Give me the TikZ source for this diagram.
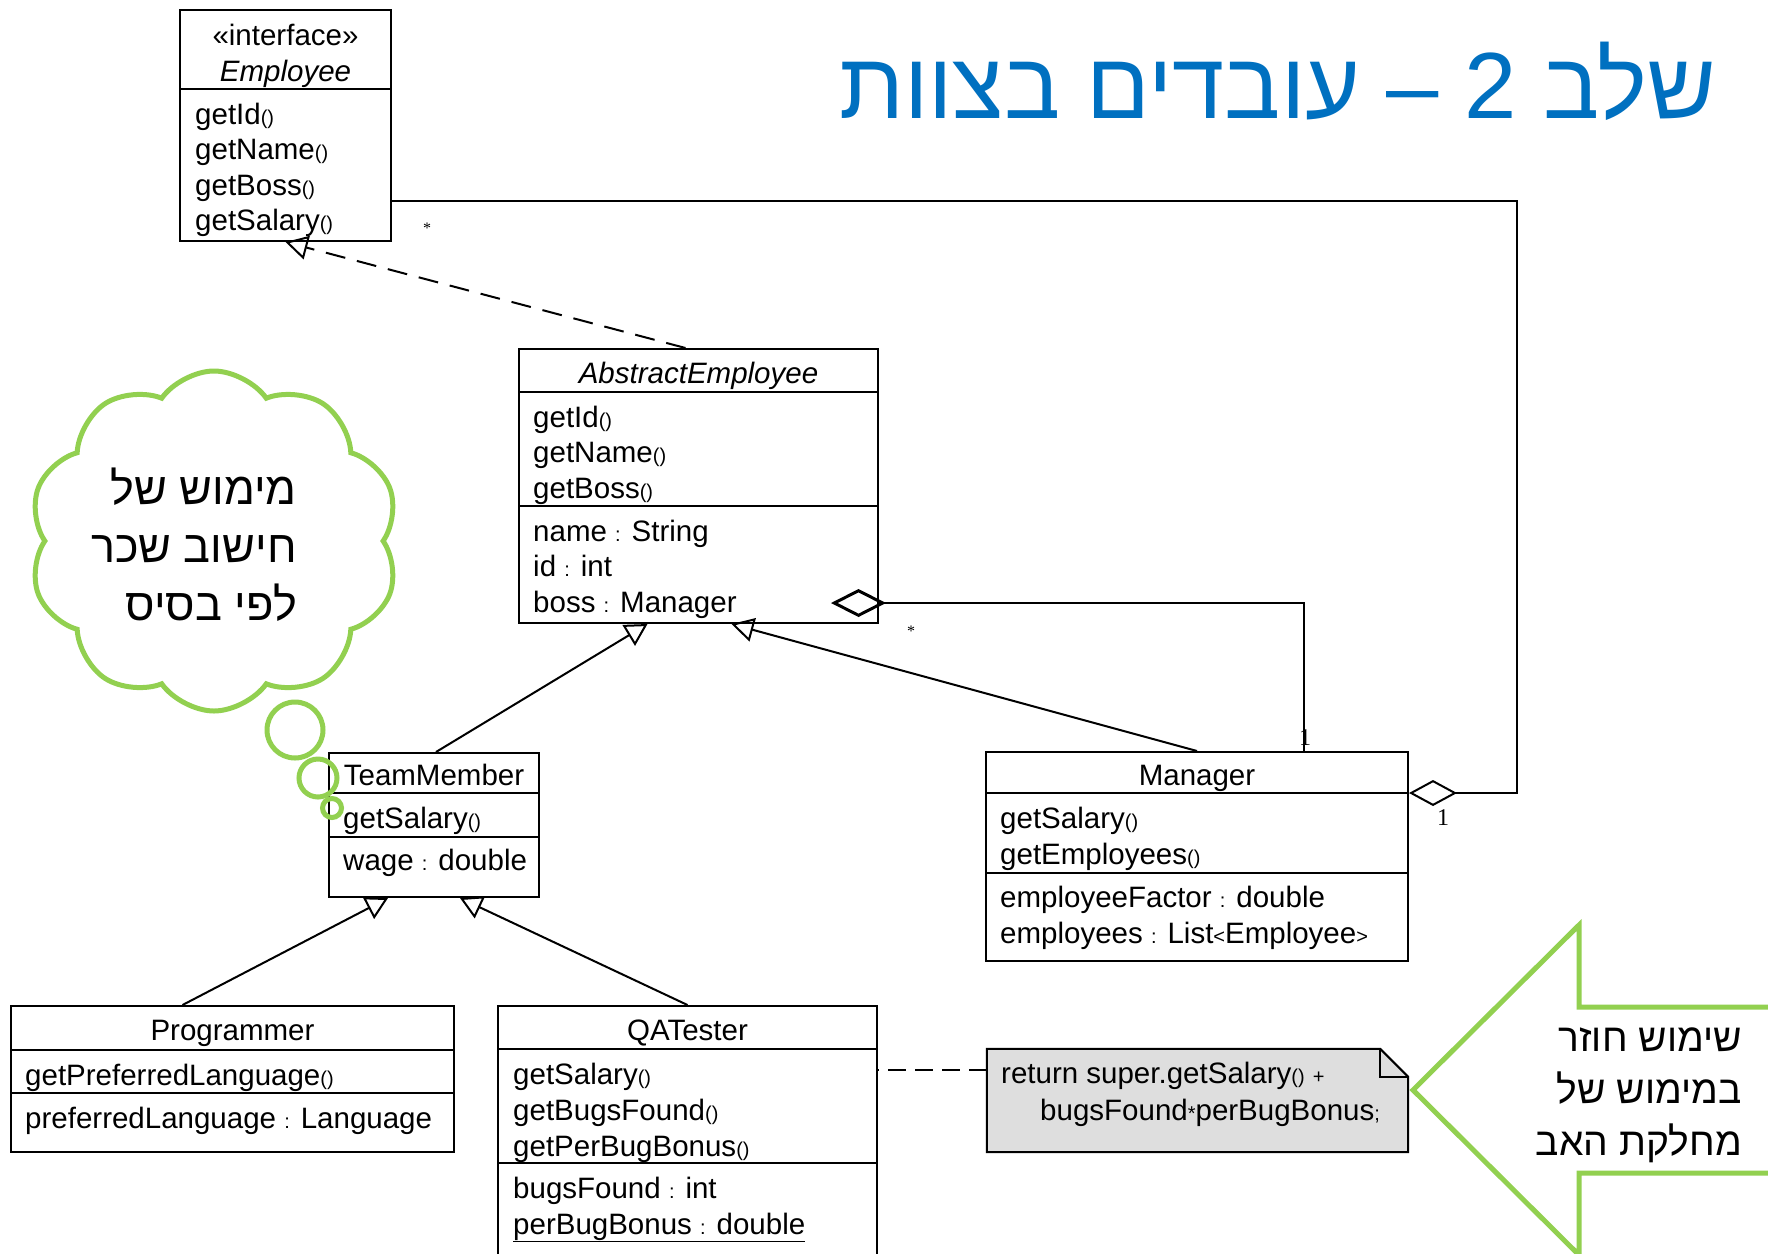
\documentclass[tikz,border=0pt]{standalone}
\usepackage{fontspec}
\setmainfont{Liberation Sans}
\newfontfamily\hebfont[Script=Hebrew]{Liberation Sans}
\newfontfamily\titlefont[Script=Hebrew]{Liberation Sans}
\newfontfamily\multfont{Liberation Serif}
\TeXXeTstate=1
\usetikzlibrary{arrows.meta,shapes.symbols,positioning}
\definecolor{titleblue}{HTML}{0070C0}
\definecolor{callgreen}{HTML}{92D050}
\definecolor{notegray}{HTML}{DEDEDE}
\newcommand{\umlfont}{\fontsize{29.5}{36}\selectfont}
\newcommand{\sm}[1]{{\fontsize{20}{20}\selectfont #1}}

\begin{document}
\begin{tikzpicture}[x=1pt, y=-1pt,
	cls/.style={draw, line width=2pt, inner sep=0pt},
	mem/.style={anchor=base west, inner sep=0pt, font=\umlfont},
	hdr/.style={anchor=base, inner sep=0pt, font=\umlfont},
	gen/.style={line width=2pt, -{Triangle[open, length=22pt, width=24pt]}},
	real/.style={gen, dash pattern=on 20pt off 12pt},
	agg/.style={line width=2pt},
	mult/.style={inner sep=0pt, font=\multfont\fontsize{24}{24}\selectfont},
	callout/.style={draw=callgreen, line width=5pt},
	heb/.style={inner sep=0pt, align=right, anchor=east}]
		\fill[white] (0,0) rectangle (1768,1253);
		\path[use as bounding box] (0,0) rectangle (1768,1253);
		\clip (0,0) rectangle (1768,1253);
		
		%--title
		\node[anchor=base east, inner sep=0pt, text=titleblue, font=\titlefont\fontsize{94}{100}\selectfont] (title) at (1716,118) {\beginR שלב 2 – עובדים בצוות\endR};
		
		%--class Employee
		\node[cls, minimum width=211pt, minimum height=231pt] (emp) at (285.5,125.5) {};
		\draw[line width=2pt] (emp.west |- 0,89) -- (emp.east |- 0,89);
		\node[hdr] (emp-st) at (285.5,45) {«interface»};
		\node[hdr, font={\umlfont\itshape}] (emp-nm) at (285.5,81) {Employee};
		\foreach \m [count=\i] in {getId, getName, getBoss, getSalary}
			\node[mem] (emp-m\i) at (195,{124+35.5*(\i-1)}) {\m\sm{()}};
		
		%--class AbstractEmployee
		\node[cls, minimum width=359pt, minimum height=274pt] (ae) at (698.5,486) {};
		\foreach \y in {392,506}
			\draw[line width=2pt] (ae.west |- 0,\y) -- (ae.east |- 0,\y);
		\node[hdr, font={\umlfont\itshape}] (ae-nm) at (698.5,383) {AbstractEmployee};
		\foreach \m [count=\i] in {getId, getName, getBoss}
			\node[mem] (ae-m\i) at (533,{427+35.5*(\i-1)}) {\m\sm{()}};
		\foreach \a [count=\i] in {name \sm{:} String, id \sm{:} int, boss \sm{:} Manager}
			\node[mem] (ae-a\i) at (533,{541+35.5*(\i-1)}) {\a};
		
		%--class TeamMember
		\node[cls, minimum width=210pt, minimum height=144pt] (tm) at (434,825) {};
		\foreach \y in {793,837}
			\draw[line width=2pt] (tm.west |- 0,\y) -- (tm.east |- 0,\y);
		\node[hdr] (tm-nm) at (434,785) {TeamMember};
		\node[mem] (tm-m1) at (343,828) {getSalary\sm{()}};
		\node[mem] (tm-a1) at (343,870) {wage \sm{:} double};
		
		%--class Manager
		\node[cls, minimum width=422pt, minimum height=209pt] (mgr) at (1197,856.5) {};
		\foreach \y in {793,873}
			\draw[line width=2pt] (mgr.west |- 0,\y) -- (mgr.east |- 0,\y);
		\node[hdr] (mgr-nm) at (1197,785) {Manager};
		\node[mem] (mgr-m1) at (1000,828) {getSalary\sm{()}};
		\node[mem] (mgr-m2) at (1000,864) {getEmployees\sm{()}};
		\node[mem] (mgr-a1) at (1000,907) {employeeFactor \sm{:} double};
		\node[mem] (mgr-a2) at (1000,943) {employees \sm{:} List\sm{<}Employee\sm{>}};
		
		%--class Programmer
		\node[cls, minimum width=443pt, minimum height=146pt] (prog) at (232.5,1079) {};
		\foreach \y in {1050,1093}
			\draw[line width=2pt] (prog.west |- 0,\y) -- (prog.east |- 0,\y);
		\node[hdr] (prog-nm) at (232.5,1040) {Programmer};
		\node[mem] (prog-m1) at (25,1085) {getPreferredLanguage\sm{()}};
		\node[mem] (prog-a1) at (25,1128) {preferredLanguage \sm{:} Language};
		
		%--class QATester
		\node[cls, minimum width=379pt, minimum height=284pt] (qa) at (687.5,1148) {};
		\foreach \y in {1049,1163}
			\draw[line width=2pt] (qa.west |- 0,\y) -- (qa.east |- 0,\y);
		\node[hdr] (qa-nm) at (687.5,1040) {QATester};
		\foreach \m [count=\i] in {getSalary, getBugsFound, getPerBugBonus}
			\node[mem] (qa-m\i) at (513,{1084+36*(\i-1)}) {\m\sm{()}};
		\node[mem] (qa-a1) at (513,1198) {bugsFound \sm{:} int};
		\node[mem] (qa-a2) at (513,1234) {\underline{perBugBonus \sm{:} double}};
		
		%--note
		\node[inner sep=0pt, minimum width=421pt, minimum height=103pt] (note) at (1197.5,1100.5) {};
		\draw[line width=2pt, fill=notegray] (note.north west) -- ([xshift=-28pt]note.north east) -- ([yshift=-28pt]note.north east) -- (note.south east) -- (note.south west) -- cycle;
		\draw[line width=2pt] ([xshift=-28pt]note.north east) |- ([yshift=-28pt]note.north east);
		\node[mem] (note-l1) at (1001,1083) {return super.getSalary\sm{()} \sm{+}};
		\node[mem] (note-l2) at (1040,1120) {bugsFound\sm{*}perBugBonus\sm{;}};
		
		%--inheritance
		\draw[real] ([xshift=-13pt]ae.north) -- (emp.south);
		\draw[gen] ([xshift=2pt]tm.north) -- ([xshift=-51pt]ae.south);
		\draw[gen] (mgr.north) -- ([xshift=33pt]ae.south);
		\draw[gen] ([xshift=-50pt]prog.north) -- ([xshift=-46pt]tm.south);
		\draw[gen] (qa.north) -- ([xshift=26pt]tm.south);
		
		%--aggregations
		\draw[agg, {Diamond[open, length=55pt, width=28pt, line width=3pt]}-] ([xshift=-48pt, yshift=21pt]ae.south east) -| ([xshift=107pt]mgr.north);
		\draw[agg, {Diamond[open, length=48pt, width=26pt]}-] ([yshift=63.5pt]mgr.east) -- ++(108,0) |- ([yshift=-75.5pt]emp.east);
		\draw[agg, dash pattern=on 18pt off 9pt] ([yshift=30.5pt]note.west) -- ([yshift=30.5pt]note.west -| qa.east);
		\node[mult, font=\multfont\fontsize{16}{16}\selectfont] (m-emp) at (427,228) {*};
		\node[mult, font=\multfont\fontsize{16}{16}\selectfont] (m-boss) at (911,631) {*};
		\node[mult] (m-mgr1) at (1305,738) {1};
		\node[mult] (m-mgr2) at (1443,818) {1};
		
		%--thought cloud
		\node[cloud, cloud puffs=10, cloud puff arc=110, cloud ignores aspect, callout, minimum width=370pt, minimum height=340pt] (cloud) at (214,541) {};
		\node[circle, callout, inner sep=0pt, minimum size=56pt] (bub1) at (295,730) {};
		\node[circle, callout, inner sep=0pt, minimum size=38pt] (bub2) at (318,778) {};
		\node[circle, callout, inner sep=0pt, minimum size=19pt] (bub3) at (332,808) {};
		\node[heb, font=\hebfont\fontsize{45}{58}\selectfont] (cloud-txt) at (297,545) {\beginR מימוש של\endR\\\beginR חישוב שכר\endR\\\beginR לפי בסיס\endR};
		
		%--big arrow
		\draw[callout, fill=white] (1413,1090) -- (1579,925) -- (1579,1007) -- (1790,1007) -- (1790,1173) -- (1579,1173) -- (1579,1255) -- cycle;
		\node[heb, font=\hebfont\fontsize{39}{52}\selectfont] (arrow-txt) at (1742,1095) {\beginR שימוש חוזר\endR\\\beginR במימוש של\endR\\\beginR מחלקת האב\endR};
	\end{tikzpicture}
\end{document}
